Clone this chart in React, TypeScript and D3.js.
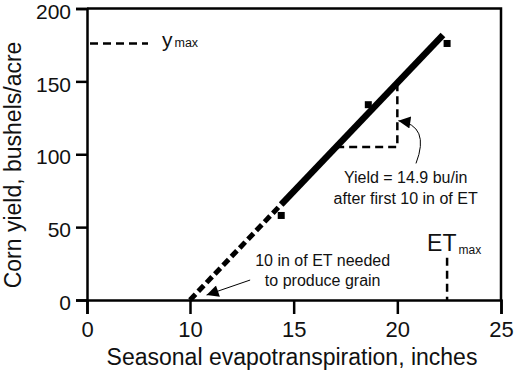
import * as d3 from 'd3';
import React, { useEffect, useRef } from 'react';

// observed points (seasonal ET in inches, yield in bu/acre)
const obsET = [14.4, 18.6, 22.4];
const obsYield = [58, 134, 176];

// fitted production function: dashed part then solid part
const dashET = [10, 14.4];
const dashYield = [0, 65.6];
const solidET = [14.4, 22.2];
const solidYield = [65.6, 181.8];

// slope triangle
const triET = [17.05, 20, 20];
const triYield = [105, 105, 149];

const yMax = 176;
const etMax = 22.4;

const xTicks = [0, 10, 15, 20, 25];
const yTicks = [0, 50, 100, 150, 200];

const W = 516;
const H = 371;
const FONT = '"Liberation Sans", Arial, Helvetica, sans-serif';

function App() {
    const xAxisRef = useRef(null);
    const yAxisRef = useRef(null);

    // x axis is broken: 0..10 takes the same room as 5 units elsewhere
    const x = d3.scaleLinear().domain([0, 10, 25]).range([87, 190, 501]);
    const y = d3.scaleLinear().domain([0, 200]).range([300, 8.5]);

    useEffect(() => {
        const xa = d3.select(xAxisRef.current);
        xa.call(d3.axisBottom(x).tickValues(xTicks).tickSize(14).tickPadding(7).tickFormat(d3.format('d')));
        xa.selectAll('path, line').attr('stroke', '#000').attr('stroke-width', 2.5);
        xa.selectAll('text').attr('font-size', 22).attr('font-family', FONT).attr('fill', '#111');

        const ya = d3.select(yAxisRef.current);
        ya.call(d3.axisLeft(y).tickValues(yTicks).tickSize(11).tickPadding(5).tickFormat(d3.format('d')));
        ya.selectAll('path, line').attr('stroke', '#000').attr('stroke-width', 2.5);
        ya.selectAll('text').attr('font-size', 21).attr('font-family', FONT).attr('fill', '#111')
            .attr('dy', '0.46em');
    }, []);

    const line = d3.line<[number, number]>().x(d => x(d[0])).y(d => y(d[1]));
    const dashPts = dashET.map((e, i) => [e, dashYield[i]] as [number, number]);
    const solidPts = solidET.map((e, i) => [e, solidYield[i]] as [number, number]);
    const triPts = triET.map((e, i) => [e, triYield[i]] as [number, number]);

    // annotation arrows, in data units
    const arrow1 = d3.path();
    arrow1.moveTo(x(20.9), y(93.7));
    arrow1.quadraticCurveTo(x(21.6), y(119.7), x(20.05), y(123));
    const arrow2 = d3.path();
    arrow2.moveTo(x(12.9), y(13.7));
    arrow2.lineTo(x(10.8), y(3.4));

    return (
        <svg width={W} height={H} style={{ position: 'absolute', left: 0, top: 0, background: '#fff' }}>
            <defs>
                <marker id="head" viewBox="0 0 10 10" refX="10" refY="5" markerWidth="14" markerHeight="12"
                    markerUnits="userSpaceOnUse" orient="auto">
                    <path d="M0,0 L10,5 L0,10 Z" fill="#000" />
                </marker>
            </defs>
            {/* frame top and right */}
            <path d={`M${x(0)},${y(200)}H${x(25)}V${y(0)}`} fill="none" stroke="#000" strokeWidth={2.5} />
            <g ref={xAxisRef} transform={`translate(0,${y(0)})`} />
            <g ref={yAxisRef} transform={`translate(${x(0)},0)`} />

            {/* fitted line */}
            <path d={line(dashPts)} fill="none" stroke="#000" strokeWidth={5} strokeDasharray="8,4" />
            <path d={line(solidPts)} fill="none" stroke="#000" strokeWidth={6.5} />
            <path d={line(triPts)} fill="none" stroke="#000" strokeWidth={2.5} strokeDasharray="8,5" />

            {obsET.map((e, i) => (
                <rect key={i} x={x(e) - 3.5} y={y(obsYield[i]) - 3.5} width={7} height={7} fill="#000" />
            ))}

            {/* ymax */}
            <line x1={x(0) + 3} x2={x(0) + 61} y1={y(yMax)} y2={y(yMax)} stroke="#000" strokeWidth={2.5} strokeDasharray="8,5" />
            <text x={x(0) + 75} y={y(yMax) + 4} fontFamily={FONT} fontSize={21} fill="#111">y
                <tspan fontSize={12.5} dx={2}>max</tspan>
            </text>

            {/* ETmax */}
            <line x1={x(etMax)} x2={x(etMax)} y1={y(29)} y2={y(0)} stroke="#000" strokeWidth={2.5} strokeDasharray="8,5" />
            <text x={x(etMax) - 20} y={y(34) + 1} fontFamily={FONT} fontSize={23} fill="#111">ET
                <tspan fontSize={12} dx={2} dy={3}>max</tspan>
            </text>

            {/* annotations */}
            <path d={arrow1.toString()} fill="none" stroke="#000" strokeWidth={1} markerEnd="url(#head)" />
            <text x={x(20.4)} y={y(80)} textAnchor="middle" fontFamily={FONT} fontSize={16} fill="#111">
                <tspan x={x(20.4)}>Yield = 14.9 bu/in</tspan>
                <tspan x={x(20.4)} dy={21}>after first 10 in of ET</tspan>
            </text>
            <path d={arrow2.toString()} fill="none" stroke="#000" strokeWidth={1} markerEnd="url(#head)" />
            <text x={x(16.4)} y={y(23.2)} textAnchor="middle" fontFamily={FONT} fontSize={16} fill="#111">
                <tspan x={x(16.4)}>10 in of ET needed</tspan>
                <tspan x={x(16.4)} dy={20}>to produce grain</tspan>
            </text>

            {/* axis titles */}
            <text x={292} y={365} textAnchor="middle" fontFamily={FONT} fontSize={23} fill="#111">
                Seasonal evapotranspiration, inches
            </text>
            <text transform="translate(21,165) rotate(-90)" textAnchor="middle" fontFamily={FONT} fontSize={23} fill="#111">
                Corn yield, bushels/acre
            </text>
        </svg>
    );
}

export default App;
